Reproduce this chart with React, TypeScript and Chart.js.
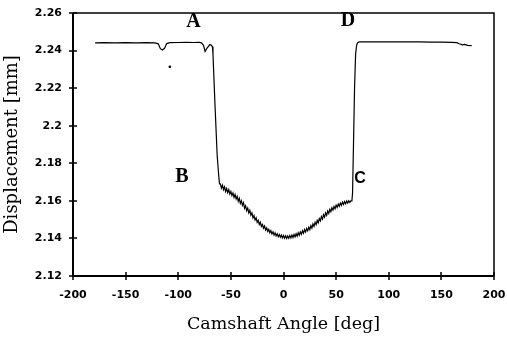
import React, { useEffect, useRef } from "react";
import { Chart, registerables } from "chart.js";

Chart.register(...registerables);

// Camshaft angle [deg] and measured displacement [mm]
const angles: number[] = [
  -179, -170, -160, -150, -140, -130, -122, -119, -117, -115, -113, -111, -108, -100, -92, -85, -80, -78, -76, -74.5, -73, -71.5, -70, -68.5, -67.5,
  -67, -65, -63, -61.6, -60.8,
  -60, -59, -58, -57, -56, -55, -54, -53, -52, -51, -50, -49, -48, -47, -46, -45, -44, -43, -42, -41,
  -40, -39, -38, -37, -36, -35, -34, -33, -32, -31, -30, -29, -28, -27, -26, -25, -24, -23, -22, -21,
  -20, -19, -18, -17, -16, -15, -14, -13, -12, -11, -10, -9, -8, -7, -6, -5, -4, -3, -2, -1,
  0, 1, 2, 3, 4, 5, 6, 7, 8, 9, 10, 11, 12, 13, 14, 15, 16, 17, 18, 19,
  20, 21, 22, 23, 24, 25, 26, 27, 28, 29, 30, 31, 32, 33, 34, 35, 36, 37, 38, 39,
  40, 41, 42, 43, 44, 45, 46, 47, 48, 49, 50, 51, 52, 53, 54, 55, 56, 57, 58, 59,
  60, 61, 62, 63, 64, 65,
  65.6, 66.5, 67.5, 68.5, 69.5, 70.5, 72,
  80, 90, 100, 110, 120, 130, 140, 150, 160, 164.6, 167, 170, 172, 175, 178.8,
];

const displacement: number[] = [
  2.2441, 2.2442, 2.2441, 2.2442, 2.2441, 2.2442, 2.2441, 2.2436, 2.241, 2.2403, 2.2412, 2.2437, 2.2442, 2.2443, 2.2444, 2.2443, 2.2444, 2.2441, 2.2428, 2.2395, 2.241, 2.2421, 2.2432, 2.2428, 2.242,
  2.238, 2.21, 2.184, 2.1738, 2.169,
  2.169, 2.1668, 2.1684, 2.166, 2.1675, 2.165, 2.1666, 2.1644, 2.166, 2.1636, 2.165, 2.1628, 2.1642, 2.1618, 2.1634, 2.161, 2.1624, 2.1598, 2.1614, 2.1586,
  2.16, 2.1576, 2.159, 2.156, 2.1574, 2.1548, 2.1562, 2.1536, 2.155, 2.1524, 2.1536, 2.151, 2.1522, 2.1498, 2.151, 2.1486, 2.1496, 2.1474, 2.1486, 2.1464,
  2.1474, 2.1454, 2.1466, 2.1445, 2.1456, 2.1437, 2.1448, 2.143, 2.1442, 2.1424, 2.1435, 2.1418, 2.143, 2.1413, 2.1425, 2.1409, 2.1421, 2.1406, 2.1418, 2.1403,
  2.1415, 2.1401, 2.1414, 2.14, 2.1413, 2.1401, 2.1415, 2.1403, 2.1418, 2.1405, 2.1421, 2.1408, 2.1425, 2.1412, 2.143, 2.1417, 2.1435, 2.1422, 2.1441, 2.1428,
  2.1447, 2.1434, 2.1453, 2.1441, 2.146, 2.1447, 2.1468, 2.1455, 2.1477, 2.1464, 2.1486, 2.1473, 2.1496, 2.1483, 2.1506, 2.1493, 2.1516, 2.1503, 2.1526, 2.1513,
  2.1536, 2.1523, 2.1546, 2.1533, 2.1555, 2.1542, 2.1563, 2.1551, 2.157, 2.1558, 2.1577, 2.1565, 2.1583, 2.1571, 2.1588, 2.1576, 2.1593, 2.1581, 2.1596, 2.1585,
  2.1599, 2.1588, 2.1601, 2.1592, 2.16, 2.16,
  2.164, 2.19, 2.22, 2.238, 2.243, 2.2442, 2.2447,
  2.2446, 2.2447, 2.2446, 2.2447, 2.2446, 2.2446, 2.2445, 2.2445, 2.2444, 2.2442, 2.2436, 2.243, 2.2433, 2.2428, 2.2426,
];

// small speck in the original scan
const speckX: number[] = [-108];
const speckY: number[] = [2.2314];

const xTicks: number[] = [-200, -150, -100, -50, 0, 50, 100, 150, 200];
const yTicks: number[] = [2.12, 2.14, 2.16, 2.18, 2.2, 2.22, 2.24, 2.26];
const yTickLabels: string[] = ["2.12", "2.14", "2.16", "2.18", "2.2", "2.22", "2.24", "2.26"];

const markerText: string[] = ["A", "B", "C", "D"];
const markerX: number[] = [-85.5, -96.4, 72.7, 61.3];
const markerY: number[] = [2.2552, 2.1728, 2.172, 2.256];

const frameAndMarks = {
  id: "frameAndMarks",
  afterDraw(chart: any) {
    const { ctx, chartArea: a, scales } = chart;
    const xs = scales.x;
    const ys = scales.y;
    ctx.save();
    ctx.strokeStyle = "#000";
    ctx.lineWidth = 1.5;
    ctx.beginPath();
    ctx.moveTo(a.left, a.top);
    ctx.lineTo(a.right, a.top);
    ctx.lineTo(a.right, a.bottom);
    ctx.stroke();
    ctx.lineWidth = 2;
    ctx.beginPath();
    ctx.moveTo(a.left, a.top);
    ctx.lineTo(a.left, a.bottom);
    ctx.lineTo(a.right, a.bottom);
    ctx.stroke();
    ctx.lineWidth = 1.5;
    ctx.beginPath();
    for (const v of xTicks) {
      const px = Math.round(xs.getPixelForValue(v));
      ctx.moveTo(px, a.bottom - 4);
      ctx.lineTo(px, a.bottom + 4);
    }
    for (const v of yTicks) {
      const py = Math.round(ys.getPixelForValue(v));
      ctx.moveTo(a.left - 4, py);
      ctx.lineTo(a.left + 4, py);
    }
    ctx.stroke();
    ctx.fillStyle = "#000";
    ctx.textAlign = "center";
    ctx.textBaseline = "middle";
    markerText.forEach((t, i) => {
      ctx.font = t === "C" ? "bold 16px 'Liberation Sans'" : "bold 20px 'Liberation Serif'";
      ctx.fillText(t, xs.getPixelForValue(markerX[i]), ys.getPixelForValue(markerY[i]));
    });
    ctx.restore();
  },
};

export default function App() {
  const ref = useRef<HTMLCanvasElement | null>(null);
  useEffect(() => {
    if (!ref.current) return;
    const chart = new Chart(ref.current, {
      type: "line",
      data: {
        datasets: [
          {
            label: "Displacement",
            data: angles.map((x, i) => ({ x, y: displacement[i] })),
            borderColor: "#000",
            borderWidth: 1.2,
            pointRadius: 0,
            tension: 0,
            fill: false,
          },
          {
            label: "speck",
            data: speckX.map((x, i) => ({ x, y: speckY[i] })),
            showLine: false,
            pointRadius: 1.3,
            pointBackgroundColor: "#000",
            pointBorderWidth: 0,
          },
        ],
      },
      options: {
        animation: false,
        responsive: true,
        maintainAspectRatio: false,
        layout: { padding: { top: 13, right: 13, left: 0, bottom: 0 } },
        plugins: { legend: { display: false }, tooltip: { enabled: false } },
        scales: {
          x: {
            type: "linear",
            min: -200,
            max: 200,
            afterBuildTicks: (s: any) => {
              s.ticks = xTicks.map((v) => ({ value: v }));
            },
            afterFit: (s: any) => {
              s.height = 61;
              s.paddingLeft = 0;
              s.paddingRight = 0;
            },
            border: { display: false },
            grid: { display: true, drawOnChartArea: false, drawTicks: true, tickLength: 4, color: "rgba(0,0,0,0)" },
            ticks: {
              color: "#000",
              font: { family: "'DejaVu Sans'", size: 11, weight: "bold" },
              padding: 9,
              maxRotation: 0,
              autoSkip: false,
              callback: (v: any) => String(v),
            },
            title: {
              display: true,
              text: "Camshaft Angle [deg]",
              color: "#000",
              font: { family: "'DejaVu Serif'", size: 17.5, weight: "normal" },
              padding: { top: 0, bottom: 2 },
            },
          },
          y: {
            type: "linear",
            min: 2.12,
            max: 2.26,
            afterBuildTicks: (s: any) => {
              s.ticks = yTicks.map((v) => ({ value: v }));
            },
            afterFit: (s: any) => {
              s.width = 73;
              s.paddingTop = 0;
              s.paddingBottom = 0;
            },
            border: { display: false },
            grid: { display: true, drawOnChartArea: false, drawTicks: true, tickLength: 4, color: "rgba(0,0,0,0)" },
            ticks: {
              color: "#000",
              font: { family: "'DejaVu Sans'", size: 11, weight: "bold" },
              padding: 7,
              autoSkip: false,
              callback: (v: any) => {
                const i = yTicks.findIndex((t) => Math.abs(t - v) < 1e-6);
                return i >= 0 ? yTickLabels[i] : "";
              },
            },
            title: {
              display: true,
              text: "Displacement [mm]",
              color: "#000",
              font: { family: "'DejaVu Serif'", size: 18, weight: "normal" },
              padding: { top: 2, bottom: 0 },
            },
          },
        },
      },
      plugins: [frameAndMarks],
    });
    return () => chart.destroy();
  }, []);
  return (
    <div style={{ position: "fixed", left: 0, top: 0, width: 507, height: 337, background: "#fff" }}>
      <canvas ref={ref} />
    </div>
  );
}
